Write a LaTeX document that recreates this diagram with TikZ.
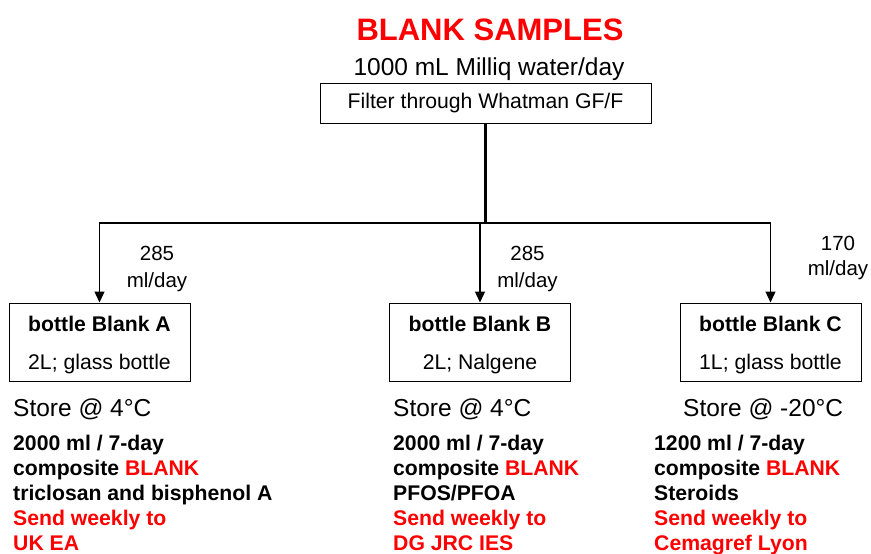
\documentclass[tikz,border=0pt]{standalone}
\usepackage{fontspec}
\setmainfont{Liberation Sans}
\usepackage{xcolor}
\usetikzlibrary{arrows.meta}
\definecolor{blankRed}{RGB}{255, 0, 0}
\newcommand{\fs}[2]{\fontsize{#1}{#2}\selectfont}

\begin{document}
\begin{tikzpicture}[x=1pt, y=-1pt,
        bottlebox/.style={draw, line width=1pt, minimum width=181pt, minimum height=78pt, inner sep=0pt, font=\fs{21.2}{25}},
        flow/.style={-{Triangle[length=11pt, width=10pt]}, line width=1.3pt},
        rate/.style={anchor=base, inner sep=0pt},
        store/.style={anchor=base west, inner sep=0pt, font=\fs{24.5}{29}},
        notes/.style={anchor=base west, inner sep=0pt, font=\fs{21.2}{25}\bfseries}]
            \useasboundingbox (0,0) rectangle (871,554);

            % Title
            \node[anchor=base, font=\fs{31}{36}\bfseries, text=blankRed] (title) at (490,40) {BLANK SAMPLES};
            \node[anchor=base, font=\fs{24.5}{29}] (water) at (489,75) {1000 mL Milliq water/day};

            % Filter
            \node[draw, line width=1pt, minimum width=331pt, minimum height=40pt, inner sep=0pt, font=\fs{21.2}{25}] (filter) at (485.5,103) {Filter through Whatman GF/F};

            % Bottles
            \node[bottlebox] (blankA) at (99.5,342) {\begin{tabular}{c}\rule{0pt}{24pt}\textbf{bottle Blank A}\\[13pt]2L; glass bottle\end{tabular}};
            \node[bottlebox] (blankB) at (480,342) {\begin{tabular}{c}\rule{0pt}{24pt}\textbf{bottle Blank B}\\[13pt]2L; Nalgene\end{tabular}};
            \node[bottlebox] (blankC) at (770.5,342) {\begin{tabular}{c}\rule{0pt}{24pt}\textbf{bottle Blank C}\\[13pt]1L; glass bottle\end{tabular}};

            % Flow
            \coordinate (split) at (485.5,223);
            \draw[line width=2.2pt] (filter.south) -- (split);
            \draw[flow] (split) -| (blankA.north);
            \draw[flow] (split) -| (blankC.north);
            \draw[flow] (split) -| (blankB.north);

            % Rates
            \node[rate, font=\fs{20.5}{27}] (rateA) at (157,260.3) {\begin{tabular}[t]{@{}c@{}}285\\ml/day\end{tabular}};
            \node[rate, font=\fs{20.5}{27}] (rateB) at (527.5,260.3) {\begin{tabular}[t]{@{}c@{}}285\\ml/day\end{tabular}};
            \node[rate, font=\fs{20.5}{25}] (rateC) at (838,250.3) {\begin{tabular}[t]{@{}c@{}}170\\ml/day\end{tabular}};

            % Storage
            \node[store] (storeA) at (13,416.5) {Store @ 4°C};
            \node[store] (storeB) at (393,416.5) {Store @ 4°C};
            \node[store] (storeC) at (683,416.5) {Store @ -20°C};

            % Composites
            \node[notes] (notesA) at (13,450) {\begin{tabular}[t]{@{}l@{}}2000 ml / 7-day\\composite \textcolor{blankRed}{BLANK}\\triclosan and bisphenol A\\\textcolor{blankRed}{Send weekly to}\\\textcolor{blankRed}{UK EA}\end{tabular}};
            \node[notes] (notesB) at (393,450) {\begin{tabular}[t]{@{}l@{}}2000 ml / 7-day\\composite \textcolor{blankRed}{BLANK}\\PFOS/PFOA\\\textcolor{blankRed}{Send weekly to}\\\textcolor{blankRed}{DG JRC IES}\end{tabular}};
            \node[notes] (notesC) at (654,450) {\begin{tabular}[t]{@{}l@{}}1200 ml / 7-day\\composite \textcolor{blankRed}{BLANK}\\Steroids\\\textcolor{blankRed}{Send weekly to}\\\textcolor{blankRed}{Cemagref Lyon}\end{tabular}};
        \end{tikzpicture}
\end{document}
